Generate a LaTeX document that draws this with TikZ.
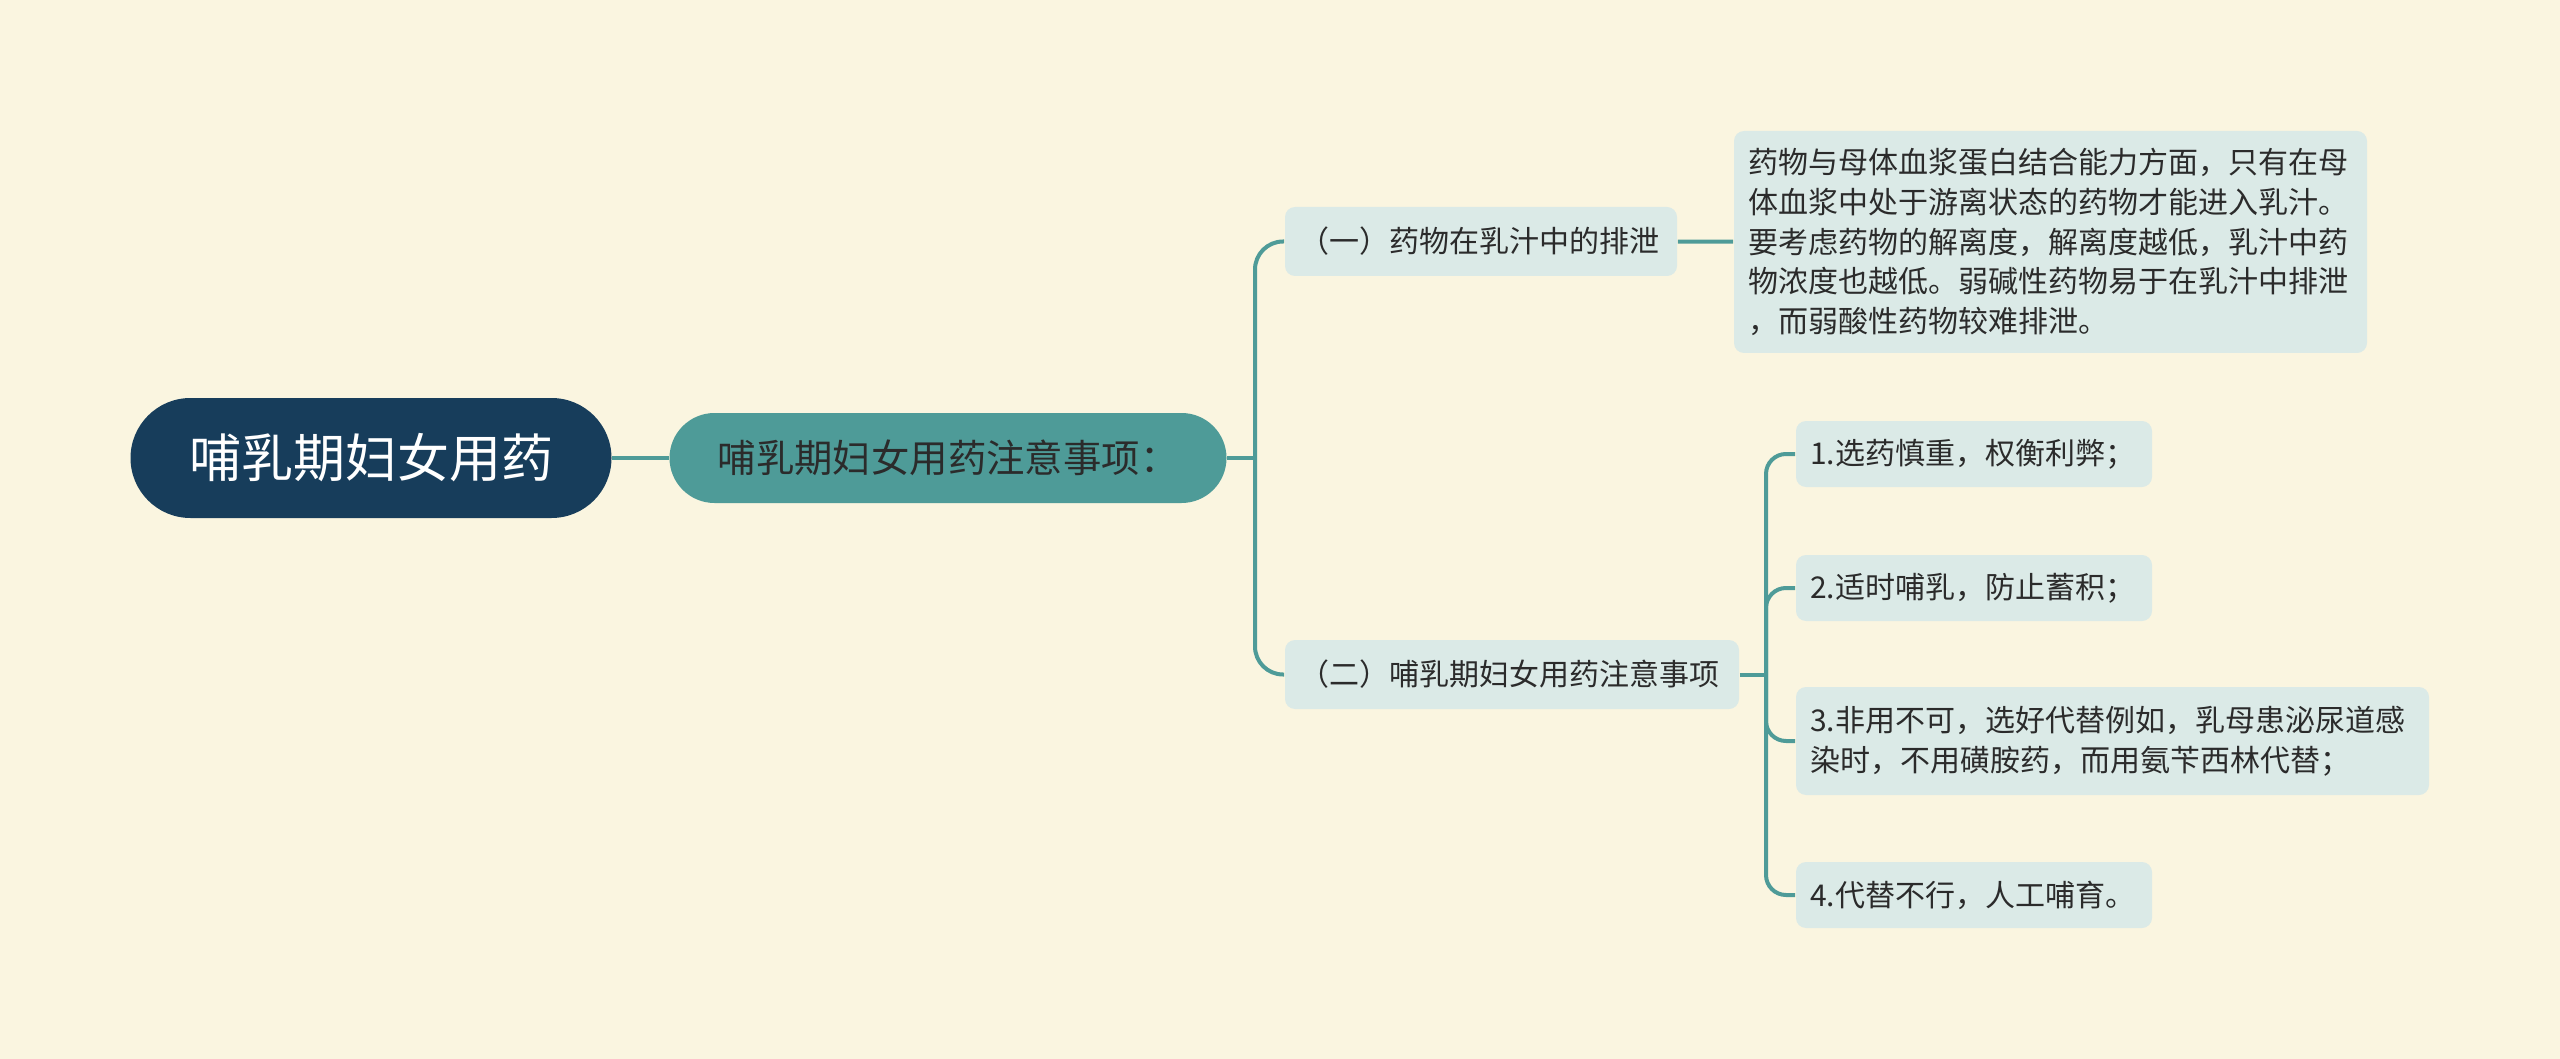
\documentclass[tikz,border=0pt]{standalone}
\usepackage{fontspec}
\setmainfont{Noto Sans CJK SC}
\usepackage{tikz}
\usetikzlibrary{positioning}
\definecolor{bgcream}{HTML}{FAF5E0}
\definecolor{rootblue}{HTML}{173D5B}
\definecolor{mainteal}{HTML}{4E9B98}
\definecolor{subpale}{HTML}{DBEAE7}
\definecolor{inkgray}{HTML}{2B2B2B}

\begin{document}
\begin{tikzpicture}[x=0.5pt,y=-0.5pt, thick,
    root node/.style={rectangle,rounded corners=30pt,fill=rootblue,text=white,
        minimum width=240.5pt,minimum height=60pt,font=\fontsize{26}{30}\selectfont},
    topic node/.style={rectangle,rounded corners=22.5pt,fill=mainteal,text=inkgray,
        minimum width=278.5pt,minimum height=45pt,font=\fontsize{19.2}{22}\selectfont},
    sub node/.style={rectangle,rounded corners=5pt,fill=subpale,text=inkgray,
        inner xsep=7pt,align=left,minimum height=34.5pt,font=\fontsize{15}{19.8}\selectfont},
    link/.style={draw=mainteal,line width=2pt}]

   \fill[bgcream] (0,0) rectangle (2560,1059);

   \node[root node] (1) at (371,458) {哺乳期妇女用药};
   \node[topic node] (2) at (948,458) {哺乳期妇女用药注意事项：};
   \node[sub node,text width=182pt] (3) at (1481,241.5) {（一）药物在乳汁中的排泄};
   \node[sub node,text width=213pt] (4) at (1512,674.5) {（二）哺乳期妇女用药注意事项};
   \node[sub node,text width=302.5pt,minimum height=111pt] (5) at (2050.5,242)
      {药物与母体血浆蛋白结合能力方面，只有在母\\体血浆中处于游离状态的药物才能进入乳汁。\\要考虑药物的解离度，解离度越低，乳汁中药\\物浓度也越低。弱碱性药物易于在乳汁中排泄\\，而弱酸性药物较难排泄。};
   \node[sub node,text width=164pt,minimum height=33pt] (6) at (1974,454) {1.选药慎重，权衡利弊；};
   \node[sub node,text width=164pt,minimum height=33pt] (7) at (1974,588) {2.适时哺乳，防止蓄积；};
   \node[sub node,text width=302.5pt,minimum height=54pt] (8) at (2112.5,741)
      {3.非用不可，选好代替例如，乳母患泌尿道感\\染时，不用磺胺药，而用氨苄西林代替；};
   \node[sub node,text width=164pt,minimum height=33pt] (9) at (1974,895) {4.代替不行，人工哺育。};

   \coordinate (f2) at (1255,458);
   \coordinate (f4) at (1766,674.5);

   \draw[link] (1) -- (2);
   \draw[link] (2.east) -- (f2);
   \draw[link,rounded corners=14pt] (3.west) -| (f2) |- (4.west);
   \draw[link] (3) -- (5);
   \draw[link] (4.east) -- (f4);
   \draw[link,rounded corners=10pt] (6.west) -| (f4) |- (9.west);
   \draw[link,rounded corners=10pt] (f4) |- (7.west);
   \draw[link,rounded corners=10pt] (f4) |- (8.west);

\end{tikzpicture}
\end{document}
